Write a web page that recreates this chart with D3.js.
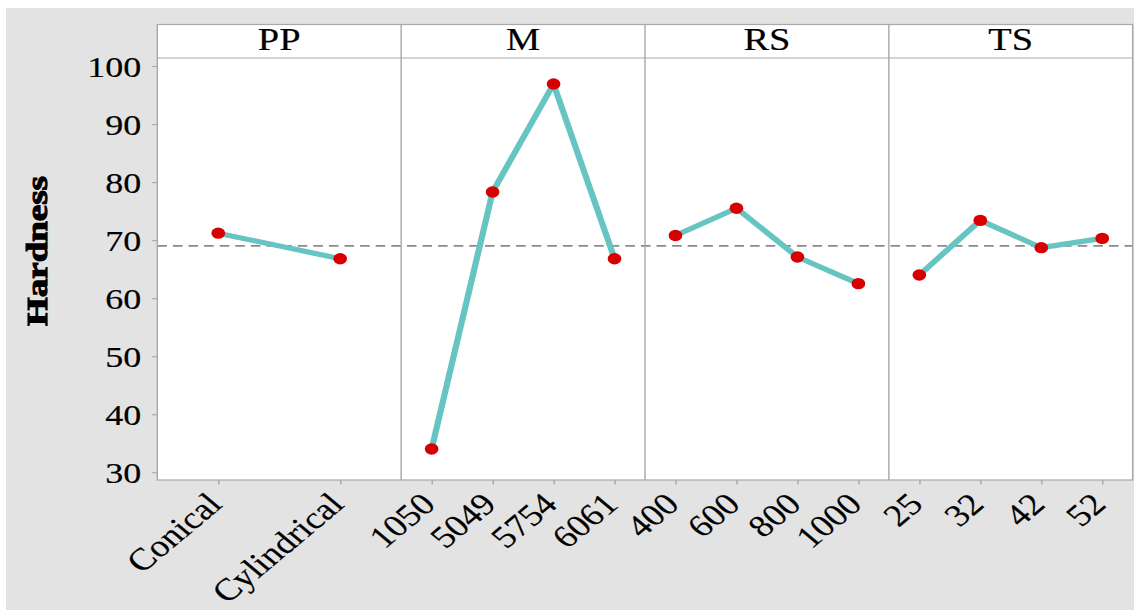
<!DOCTYPE html>
<html>
<head>
<meta charset="utf-8">
<script src="https://cdn.jsdelivr.net/npm/d3@7"></script>
<style>
  html, body { margin: 0; padding: 0; background: #ffffff; }
  svg { display: block; }
  text { font-family: "Liberation Serif", "Times New Roman", serif; fill: #000; }
</style>
</head>
<body>
<svg id="chart" width="1134" height="610"></svg>
<script>
// ---- data ----
const panels = ["PP", "M", "RS", "TS"];
const ppLevels = ["Conical", "Cylindrical"];
const ppMeans = [71.2, 66.8];
const mLevels = ["1050", "5049", "5754", "6061"];
const mMeans = [34.0, 78.3, 96.9, 66.8];
const rsLevels = ["400", "600", "800", "1000"];
const rsMeans = [70.8, 75.5, 67.1, 62.5];
const tsLevels = ["25", "32", "42", "52"];
const tsMeans = [64.0, 73.4, 68.7, 70.3];
const yTicks = [30, 40, 50, 60, 70, 80, 90, 100];
const grandMean = 69.0;
const yTitle = "Hardness";

const levels = [ppLevels, mLevels, rsLevels, tsLevels];
const means = [ppMeans, mMeans, rsMeans, tsMeans];

// ---- layout ----
const SX = 1.2; // horizontal stretch of the whole picture
const svg = d3.select("#chart");
svg.append("rect").attr("x", 6).attr("y", 8).attr("width", 1128).attr("height", 602).attr("fill", "#e3e3e3");

const g = svg.append("g").attr("transform", `scale(${SX},1)`);

const plotL = 157.3 / SX, plotR = 1132.7 / SX;
const plotT = 24.5, stripB = 58, plotB = 480;
const frameCol = "#a9a9a9";
const textStroke = 0.18;

const y = d3.scaleLinear().domain([28.67, 101.38]).range([plotB, stripB]);
const px = d3.scaleBand().domain(panels).range([plotL, plotR]).padding(0);

// backgrounds
g.append("rect").attr("x", plotL).attr("y", plotT).attr("width", plotR - plotL).attr("height", plotB - plotT)
  .attr("fill", "#fff");

// grand mean reference line
g.append("line").attr("x1", plotL).attr("x2", plotR).attr("y1", y(grandMean)).attr("y2", y(grandMean))
  .attr("stroke", "#8a8a8a").attr("stroke-width", 1.7).attr("stroke-dasharray", "8,5");

// frame + strip line + dividers
g.append("rect").attr("x", plotL).attr("y", plotT).attr("width", plotR - plotL).attr("height", plotB - plotT)
  .attr("fill", "none").attr("stroke", frameCol).attr("stroke-width", 1.2);
g.append("line").attr("x1", plotL).attr("x2", plotR).attr("y1", stripB).attr("y2", stripB)
  .attr("stroke", frameCol).attr("stroke-width", 1.2);
panels.slice(1).forEach(p => {
  g.append("line").attr("x1", px(p)).attr("x2", px(p)).attr("y1", plotT).attr("y2", plotB)
    .attr("stroke", frameCol).attr("stroke-width", 1.2);
});

// y axis
const yAxis = g.append("g").attr("transform", `translate(${plotL},0)`)
  .call(d3.axisLeft(y).tickValues(yTicks).tickSize(4.3).tickPadding(9));
yAxis.select(".domain").remove();
yAxis.selectAll(".tick line").attr("stroke", frameCol).attr("stroke-width", 1.2);
yAxis.selectAll(".tick text").style("font-size", "30px").attr("dy", "0.34em")
  .style("font-family", "'Liberation Serif', serif")
  .attr("stroke", "#000").attr("stroke-width", textStroke);

// y title
g.append("text")
  .attr("transform", `translate(39.5,251) rotate(-90)`)
  .attr("text-anchor", "middle")
  .attr("textLength", 150).attr("lengthAdjust", "spacingAndGlyphs")
  .style("font-size", "24px").style("font-weight", "bold")
  .attr("stroke", "#000").attr("stroke-width", 0.9)
  .text(yTitle);

// panels
const line = d3.line();
panels.forEach((p, i) => {
  const x0 = px(p);
  const bw = px.bandwidth();
  const xs = d3.scalePoint().domain(levels[i]).range([0, bw]).padding(0.5);
  const pg = g.append("g").attr("transform", `translate(${x0},0)`);

  // strip label
  pg.append("text").attr("x", bw / 2).attr("y", 50.5).attr("text-anchor", "middle")
    .style("font-size", "32px").attr("stroke", "#000").attr("stroke-width", textStroke).text(p);

  // x axis
  const xa = pg.append("g").attr("transform", `translate(0,${plotB})`)
    .call(d3.axisBottom(xs).tickSize(4.5).tickSizeOuter(0));
  xa.select(".domain").remove();
  xa.selectAll(".tick line").attr("stroke", frameCol).attr("stroke-width", 1.2);
  xa.selectAll(".tick text")
    .attr("y", 0).attr("dy", 0)
    .attr("text-anchor", "end")
    .attr("transform", "translate(4,26) rotate(-45)")
    .style("font-size", "31px")
    .style("font-family", "'Liberation Serif', serif")
    .attr("stroke", "#000").attr("stroke-width", textStroke);

  const pts = levels[i].map((l, k) => [xs(l), y(means[i][k])]);
  pg.append("path").attr("d", line(pts)).attr("fill", "none")
    .attr("stroke", "#66c4c2").attr("stroke-width", 5.2).attr("stroke-linejoin", "round");
  pg.selectAll("circle.pt").data(pts).enter().append("circle").attr("class", "pt")
    .attr("cx", d => d[0]).attr("cy", d => d[1]).attr("r", 5.7).attr("fill", "#d60000");
});
</script>
</body>
</html>
